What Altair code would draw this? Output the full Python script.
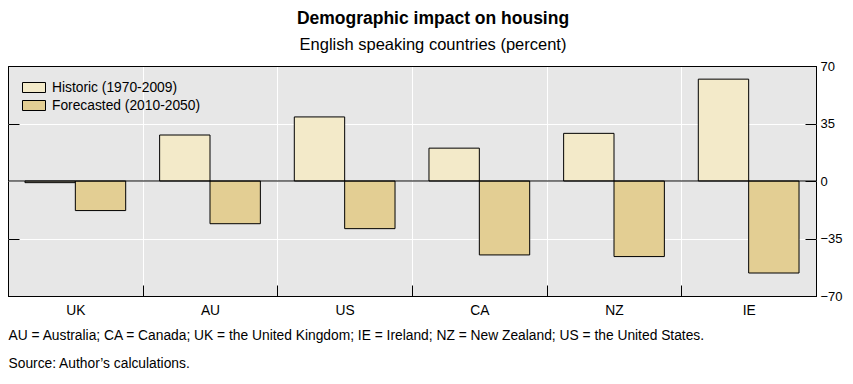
import altair as alt
import pandas as pd

countries = ["UK", "AU", "US", "CA", "NZ", "IE"]
historic = [-1, 28, 39, 20, 29, 62]
forecast = [-18, -26, -29, -45, -46, -56]
series_names = ["Historic (1970-2009)", "Forecasted (2010-2050)"]
series_colors = ["#F3EAC9", "#E3CE93"]
y_ticks = [-70, -35, 0, 35, 70]
footnotes = [
    "AU = Australia; CA = Canada; UK = the United Kingdom; IE = Ireland; NZ = New Zealand; US = the United States.",
    "Source: Author\u2019s calculations.",
]

rows = []
for c, h, f in zip(countries, historic, forecast):
    rows.append({"country": c, "series": series_names[0], "value": h})
    rows.append({"country": c, "series": series_names[1], "value": f})
df = pd.DataFrame(rows)
zero_df = pd.DataFrame({"value": [0]})

FONT = "Liberation Sans"
TXT = 13.8

y_scale = alt.Scale(domain=[-70, 70], nice=False, zero=False)

bars = alt.Chart(df).mark_bar(stroke="black", strokeWidth=1).encode(
    x=alt.X(
        "country:N",
        sort=countries,
        scale=alt.Scale(paddingInner=0, paddingOuter=0),
        axis=alt.Axis(
            orient="bottom",
            offset=-11,
            tickSize=11,
            tickColor="black",
            tickBand="extent",
            domain=False,
            grid=True,
            gridColor={"condition": {"test": "datum.value === 'IE' || datum.extra", "value": "black"}, "value": "white"},
            gridWidth=1,
            labelAngle=0,
            labelPadding=7,
            labelFontSize=TXT,
            labelFont=FONT,
            labelColor="black",
            title=footnotes,
            titleFont=FONT,
            titleFontSize=TXT,
            titleFontWeight="normal",
            titleColor="black",
            titleAlign="left",
            titleAnchor="start",
            titleBaseline="alphabetic",
            titleLineHeight=28,
            titleX=0,
            titleY=54,
        ),
    ),
    xOffset=alt.XOffset(
        "series:N",
        sort=series_names,
        scale=alt.Scale(paddingOuter=0.337, paddingInner=0),
    ),
    y=alt.Y(
        "value:Q",
        scale=y_scale,
        axis=alt.Axis(
            orient="right",
            offset=-11,
            tickSize=11,
            tickColor="black",
            values=y_ticks,
            domain=False,
            grid=True,
            gridColor={"condition": {"test": "datum.value === 70 || datum.value === -70", "value": "black"}, "value": "white"},
            gridWidth=1,
            labelPadding=4,
            labelFontSize=13,
            labelFont=FONT,
            labelColor="black",
            labelBaseline="middle",
            labelFlush=False,
            title=None,
        ),
    ),
    color=alt.Color(
        "series:N",
        sort=series_names,
        scale=alt.Scale(domain=series_names, range=series_colors),
        legend=alt.Legend(
            title=None,
            orient="none",
            legendX=17.5,
            legendY=13,
            symbolType="M-1.4375,-0.625H1.4375V0.625H-1.4375Z",
            symbolSize=256,
            symbolStrokeColor="black",
            symbolStrokeWidth=1,
            symbolOpacity=1,
            labelOffset=9.5,
            labelFontSize=TXT,
            labelFont=FONT,
            labelColor="black",
            rowPadding=2,
            padding=0,
        ),
    ),
)

zero_rule = alt.Chart(zero_df).mark_rule(color="black", strokeWidth=1).encode(
    y=alt.Y(
        "value:Q",
        scale=y_scale,
        axis=alt.Axis(
            orient="left",
            offset=-11,
            tickSize=11,
            tickColor="black",
            values=[-35, 35],
            domain=False,
            grid=False,
            labels=False,
            title=None,
        ),
    )
)

chart = (
    alt.layer(bars, zero_rule)
    .resolve_scale(y="shared")
    .resolve_axis(y="independent")
    .properties(
        width=808,
        height=230,
        autosize=alt.AutoSizeParams(type="none"),
        padding={"left": 0, "top": 58, "right": 29, "bottom": 80},
        title=alt.TitleParams(
            text="Demographic impact on housing",
            subtitle="English speaking countries (percent)",
            font=FONT,
            fontSize=17.5,
            fontWeight="bold",
            color="black",
            subtitleFont=FONT,
            subtitleFontSize=16.5,
            subtitleColor="black",
            subtitlePadding=9,
            anchor="middle",
            dx=21,
            offset=7,
        ),
    )
    .configure_view(fill="#E7E7E7", stroke="black", strokeWidth=1)
)

chart.save("out.html", embed_options={"renderer": "svg", "actions": False})
